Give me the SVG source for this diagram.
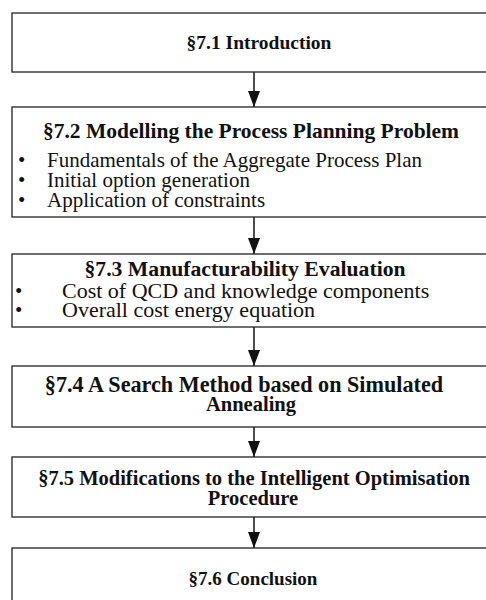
<svg xmlns="http://www.w3.org/2000/svg" width="486" height="600" viewBox="0 0 486 600">
<defs>
<style>
.box{fill:#fff;stroke:#222;stroke-width:1.3}
.t{font-family:"Liberation Serif","Times New Roman",serif;font-weight:bold;font-size:20.5px;fill:#111;text-anchor:middle}
.b{font-family:"Liberation Serif","Times New Roman",serif;font-size:21px;fill:#111}
.c{stroke:#111;stroke-width:1.5;fill:none}
</style>
<marker id="ah" viewBox="0 0 16 12" refX="16" refY="6" markerWidth="16" markerHeight="12" markerUnits="userSpaceOnUse" orient="auto">
<path d="M0,0 L16,6 L0,12 Z" fill="#111"/>
</marker>
</defs>
<rect width="486" height="600" fill="#fff"/>
<g id="connectors">
<line class="c" x1="254" y1="72" x2="254" y2="107" marker-end="url(#ah)"/>
<line class="c" x1="254" y1="217" x2="254" y2="254" marker-end="url(#ah)"/>
<line class="c" x1="254" y1="327" x2="254" y2="366" marker-end="url(#ah)"/>
<line class="c" x1="254" y1="427" x2="254" y2="457" marker-end="url(#ah)"/>
<line class="c" x1="254" y1="517" x2="254" y2="548" marker-end="url(#ah)"/>
</g>
<g id="n1">
<rect class="box" x="12" y="13" width="490" height="59"/>
<text class="t" x="259" y="49" style="font-size:19.5px">§7.1 Introduction</text>
</g>
<g id="n2">
<rect class="box" x="12" y="107" width="490" height="110"/>
<text class="t" x="251" y="138" style="font-size:21.5px">§7.2 Modelling the Process Planning Problem</text>
<text class="b" x="18" y="167">•</text>
<text class="b" x="47" y="167">Fundamentals of the Aggregate Process Plan</text>
<text class="b" x="18" y="187">•</text>
<text class="b" x="47" y="187">Initial option generation</text>
<text class="b" x="18" y="207">•</text>
<text class="b" x="47" y="207">Application of constraints</text>
</g>
<g id="n3">
<rect class="box" x="12" y="254" width="490" height="73"/>
<text class="t" x="245" y="276" style="font-size:21.7px">§7.3 Manufacturability Evaluation</text>
<text class="b" x="15" y="298">•</text>
<text class="b" x="62" y="298" style="font-size:22px">Cost of QCD and knowledge components</text>
<text class="b" x="15" y="317">•</text>
<text class="b" x="62" y="317" style="font-size:22px">Overall cost energy equation</text>
</g>
<g id="n4">
<rect class="box" x="12" y="366" width="490" height="61"/>
<text class="t" x="244" y="392" style="font-size:22.2px">§7.4 A Search Method based on Simulated</text>
<text class="t" x="251" y="411">Annealing</text>
</g>
<g id="n5">
<rect class="box" x="12" y="457" width="490" height="60"/>
<text class="t" x="254" y="485">§7.5 Modifications to the Intelligent Optimisation</text>
<text class="t" x="253" y="505">Procedure</text>
</g>
<g id="n6">
<rect class="box" x="12" y="548" width="490" height="70"/>
<text class="t" x="253" y="585" style="font-size:19px">§7.6 Conclusion</text>
</g>
</svg>
